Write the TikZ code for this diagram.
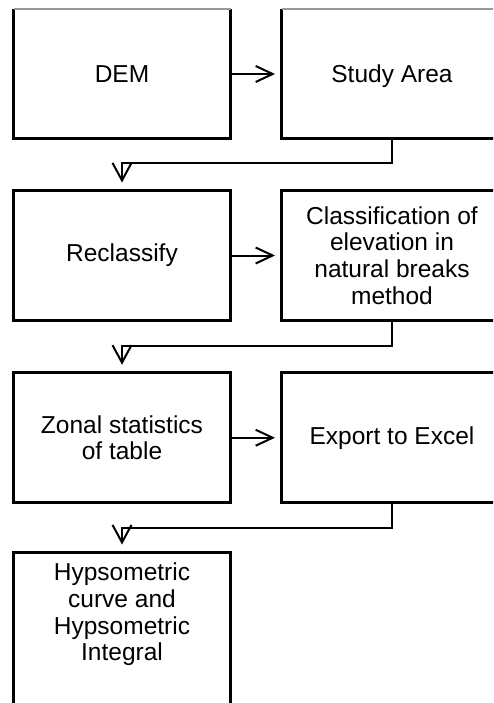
\documentclass[tikz,border=0pt]{standalone}
\usepackage{fontspec}
\setmainfont{Liberation Sans}
\usetikzlibrary{arrows.meta}
\newcommand\diafont{\fontsize{24.5pt}{26.7pt}\selectfont}
\begin{document}
\begin{tikzpicture}[x=1pt,y=-1pt,
  plain/.style={rectangle, inner sep=0pt, outer sep=0pt, align=center, font=\diafont, text=black},
  lbox/.style={plain, minimum width=217pt, minimum height=130pt},
  rbox/.style={plain, minimum width=221pt, minimum height=130pt},
  border/.style={draw=black, line width=3pt},
  topgrey/.style={draw=black!40, line width=2pt},
  conn/.style={draw=black, line width=2pt},
  harrow/.style={conn, -{Straight Barb[length=17pt,width=16pt]}, shorten >=6.5pt},
  varrow/.style={conn, -{Straight Barb[length=17.5pt,width=19pt]}, shorten >=8pt}]
\useasboundingbox (0,0) rectangle (493,703);
\clip (0,0) rectangle (493,703);
\fill[white] (0,0) rectangle (493,703);

% row 1
\node[lbox] (dem) at (122,74) {DEM};
\node[rbox, text depth=0pt] (study) at (392,74) {Study Area};
\draw[border] (dem.north west) -- (dem.south west) -- (dem.south east) -- (dem.north east);
\draw[border] (study.north west) -- (study.south west) -- (study.south east) -- (study.north east);
\draw[topgrey] (dem.north west) -- (dem.north east);
\draw[topgrey] (study.north west) -- (study.north east);

% row 2
\node[lbox, border] (recl) at (122,255.5) {Reclassify};
\node[rbox, border] (class) at (392,255.5) {Classification of\\elevation in\\natural breaks\\method};

% row 3
\node[lbox, border] (zonal) at (122,437.75) {Zonal statistics\\of table};
\node[rbox, border] (export) at (392,437.75) {Export to Excel};

% row 4
\node[plain, border, minimum width=217pt, minimum height=200pt] (hyps) at (122,652.5) {};
\node[plain, anchor=north] (hypst) at (122,563) {Hypsometric\\curve and\\Hypsometric\\Integral};

% horizontal arrows
\draw[harrow] (dem) -- (study);
\draw[harrow] (recl) -- (class);
\draw[harrow] (zonal) -- (export);

% elbow connectors
\draw[varrow] (study.south) -- ++(0,24) -| (recl.north);
\draw[varrow] (class.south) -- ++(0,25.5) -| (zonal.north);
\draw[varrow] (export.south) -- ++(0,25) -| (hyps.north);
\end{tikzpicture}
\end{document}
